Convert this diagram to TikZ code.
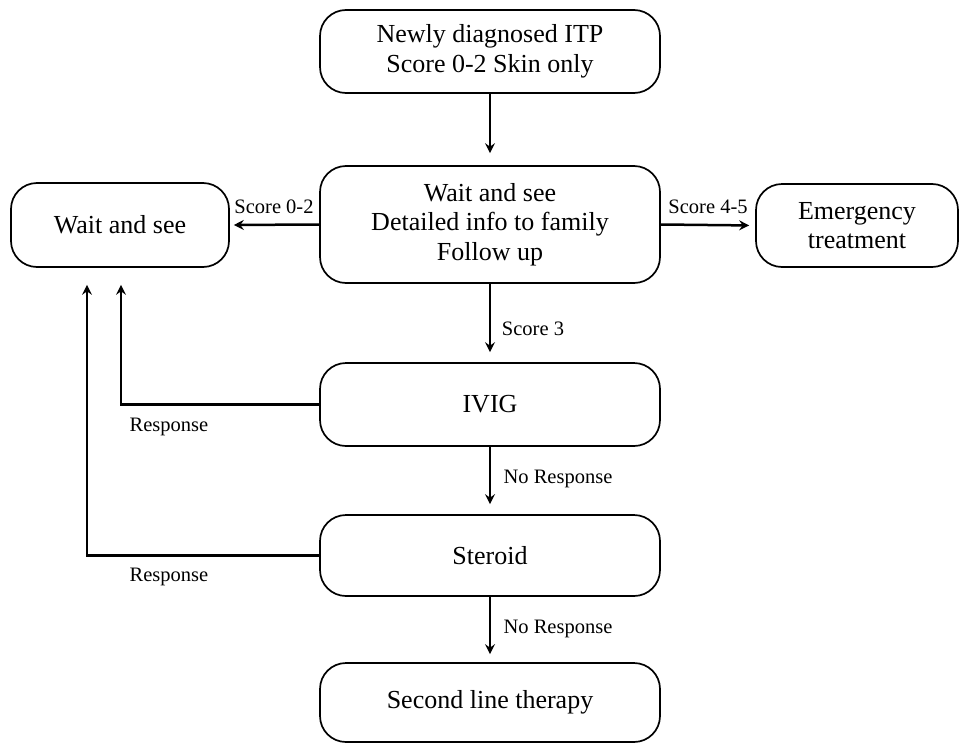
\documentclass[tikz,border=0pt]{standalone}
\usepackage{fontspec}
\setmainfont{Liberation Serif}
\usetikzlibrary{arrows.meta}
\begin{document}
\begin{tikzpicture}[x=1pt,y=-1pt,
  box/.style={draw, line width=1.7pt, rounded corners=26pt, align=center,
    font=\fontsize{26}{29.5}\selectfont, inner sep=0pt},
  arr/.style={line width=2.5pt, -{Stealth[length=10pt,width=10pt,inset=3.5pt]}},
  lbl/.style={font=\fontsize{20.5}{24}\selectfont, inner sep=0pt}]
\useasboundingbox (0,0) rectangle (960,744);
\fill[white] (0,0) rectangle (960,744);
\node[box, minimum width=340pt, minimum height=83pt] (top) at (490,51.5) {Newly diagnosed ITP\\Score 0-2 Skin only};
\node[box, minimum width=340pt, minimum height=117pt] (mid) at (490,224.5) {Wait and see\\Detailed info to family\\Follow up};
\node[box, minimum width=218pt, minimum height=84pt] (wl) at (120,225) {Wait and see};
\node[box, minimum width=202pt, minimum height=83pt] (em) at (857,225.5) {Emergency\\treatment};
\node[box, minimum width=340pt, minimum height=83pt] (ivig) at (490,404.5) {IVIG};
\node[box, minimum width=340pt, minimum height=81pt] (ster) at (490,555.5) {Steroid};
\node[box, minimum width=340pt, minimum height=79pt] (sec) at (490,702.5) {Second line therapy};

\draw[arr, shorten >=12pt] (top) -- (mid);
\draw[arr, shorten >=4pt] (mid.west) -- (wl.east);
\draw[arr, shorten >=6pt] (mid.east) -- (em.west);
\draw[arr, shorten >=10pt] (mid) -- (ivig);
\draw[arr, shorten >=10pt] (ivig) -- (ster);
\draw[arr, shorten >=8pt] (ster) -- (sec);
\draw[arr, shorten >=17pt] (ivig.west) -| ([xshift=1pt]wl.south);
\draw[arr, shorten >=17pt] (ster.west) -| ([xshift=-33pt]wl.south);

\node[lbl] (l1) at (274,207) {Score 0-2};
\node[lbl] (l2) at (708,207) {Score 4-5};
\node[lbl] (l3) at (533,329) {Score 3};
\node[lbl] (l4) at (558,479) {No Response};
\node[lbl] (l5) at (558,629) {No Response};
\node[lbl] (l6) at (169,427) {Response};
\node[lbl] (l7) at (169,577) {Response};
\end{tikzpicture}
\end{document}
